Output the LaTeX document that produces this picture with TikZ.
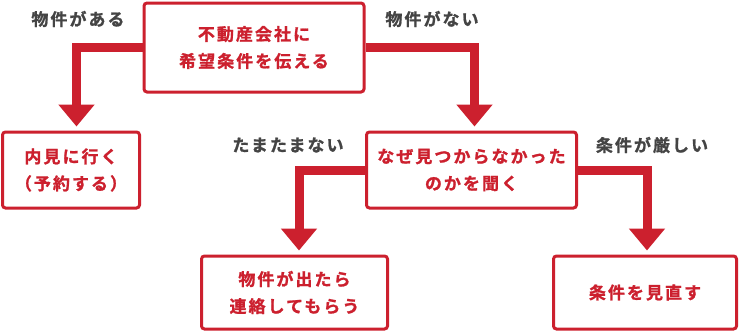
\documentclass[tikz,border=0pt]{standalone}
\usepackage{fontspec}
\setmainfont{Noto Sans CJK JP}[LetterSpace=12, BoldFont={Noto Sans CJK JP Bold},
  BoldFeatures={FakeBold=1.2}]
\definecolor{flowred}{RGB}{204,32,46}
\definecolor{labelgray}{RGB}{68,68,68}
\usetikzlibrary{arrows.meta, positioning, calc}

\begin{document}
\begin{tikzpicture}[
  x=1pt, y=-1pt,
  box/.style={rectangle, rounded corners=3pt, draw=flowred, line width=3pt,
              fill=white, text=flowred, align=center, font=\fontsize{17}{27}\selectfont\bfseries,
              inner sep=0pt},
  branch/.style={font=\fontsize{17}{18}\selectfont\bfseries, text=labelgray},
  flow/.style={-{Triangle[length=22pt, width=35pt]}, line width=9pt, color=flowred}
]
  \useasboundingbox (0,0) rectangle (740,335);

  % Top box
  \node[box, minimum width=220pt, minimum height=89pt] (ask)
    at (254,47.5) {不動産会社に\\希望条件を伝える};

  % Second row
  \node[box, minimum width=137pt, minimum height=76pt] (visit)
    at (71,170) {内見に行く\\（予約する）};
  \node[box, minimum width=210pt, minimum height=76pt] (why)
    at (471.5,170) {なぜ見つからなかった\\のかを聞く};

  % Bottom row
  \node[box, minimum width=186pt, minimum height=73pt] (wait)
    at (294.5,292.5) {物件が出たら\\連絡してもらう};
  \node[box, minimum width=183pt, minimum height=73pt] (review)
    at (645,292.5) {条件を見直す};

  % Arrows
  \draw[flow] (ask.west) -| ($(visit.north)+(5.5,-4)$);
  \draw[flow] (ask.east) -| ($(why.north)+(3,-4)$);
  \draw[flow] (why.west) -| ($(wait.north)+(4.5,-4)$);
  \draw[flow] (why.east) -| ($(review.north)+(2,-4)$);

  % Branch labels
  \node[branch] (yes) at (78,19) {物件がある};
  \node[branch] (no) at (432,19) {物件がない};
  \node[branch] (luck) at (288,145) {たまたまない};
  \node[branch] (strict) at (652,145) {条件が厳しい};
\end{tikzpicture}
\end{document}
